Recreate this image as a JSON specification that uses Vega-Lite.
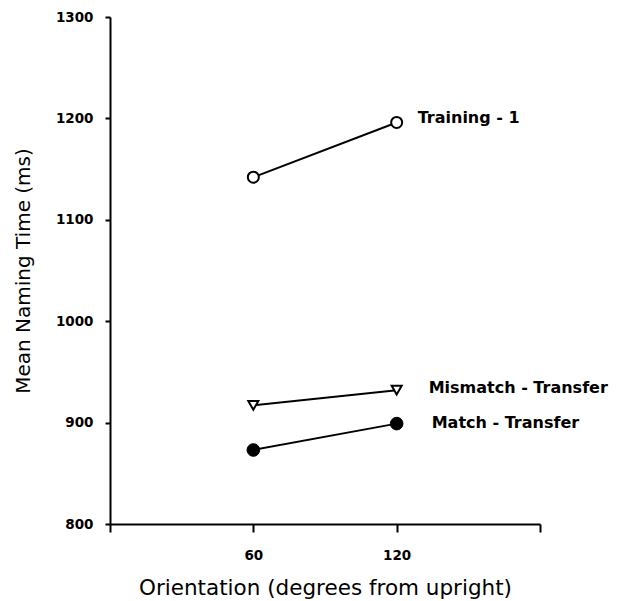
{
  "$schema": "https://vega.github.io/schema/vega-lite/v6.json",
  "autosize": "none",
  "width": 430,
  "height": 507,
  "padding": {"left": 110, "top": 17, "right": 79, "bottom": 77},
  "background": "white",
  "config": {
    "view": {"stroke": null},
    "axis": {
      "grid": false,
      "domainColor": "black",
      "domainWidth": 2,
      "tickColor": "black",
      "tickWidth": 2,
      "labelColor": "black",
      "titleColor": "black",
      "labelFont": "DejaVu Sans",
      "titleFont": "DejaVu Sans",
      "labelFontSize": 13.5,
      "labelFontWeight": "bold",
      "titleFontWeight": "normal"
    }
  },
  "data": {
    "values": [
      {"series": "Training - 1", "orientation": 60, "time": 1142},
      {"series": "Training - 1", "orientation": 120, "time": 1196},
      {"series": "Mismatch - Transfer", "orientation": 60, "time": 917},
      {"series": "Mismatch - Transfer", "orientation": 120, "time": 932},
      {"series": "Match - Transfer", "orientation": 60, "time": 873},
      {"series": "Match - Transfer", "orientation": 120, "time": 899}
    ]
  },
  "encoding": {
    "x": {
      "field": "orientation", "type": "quantitative",
      "scale": {"domain": [0, 180], "nice": false},
      "axis": {
        "values": [0, 60, 120, 180],
        "format": "d",
        "labelExpr": "datum.value == 60 || datum.value == 120 ? datum.label : ''",
        "tickSize": 8,
        "labelPadding": 16,
        "titlePadding": 16,
        "titleFontSize": 21.5,
        "title": "Orientation (degrees from upright)"
      }
    },
    "y": {
      "field": "time", "type": "quantitative",
      "scale": {"domain": [800, 1300], "nice": false},
      "axis": {
        "values": [800, 900, 1000, 1100, 1200, 1300],
        "format": "d",
        "tickSize": 5,
        "labelPadding": 12,
        "titlePadding": 22,
        "titleFontSize": 20,
        "title": "Mean Naming Time (ms)"
      }
    }
  },
  "layer": [
    {
      "mark": {"type": "line", "color": "black", "strokeWidth": 2},
      "encoding": {"detail": {"field": "series"}}
    },
    {
      "transform": [{"filter": "datum.series == 'Training - 1'"}],
      "mark": {"type": "point", "shape": "circle", "filled": true, "fill": "white", "stroke": "black", "strokeWidth": 2, "size": 121, "opacity": 1}
    },
    {
      "transform": [{"filter": "datum.series == 'Mismatch - Transfer'"}],
      "mark": {"type": "point", "shape": "triangle-down", "filled": true, "fill": "white", "stroke": "black", "strokeWidth": 2, "size": 100, "opacity": 1}
    },
    {
      "transform": [{"filter": "datum.series == 'Match - Transfer'"}],
      "mark": {"type": "point", "shape": "circle", "filled": true, "fill": "black", "stroke": "black", "strokeWidth": 1, "size": 160, "opacity": 1}
    },
    {
      "transform": [{"filter": "datum.series == 'Training - 1' && datum.orientation == 120"}],
      "mark": {"type": "text", "align": "left", "dx": 21, "dy": -4, "font": "DejaVu Sans", "fontSize": 16, "fontWeight": "bold", "color": "black"},
      "encoding": {"text": {"field": "series"}}
    },
    {
      "transform": [{"filter": "datum.series == 'Mismatch - Transfer' && datum.orientation == 120"}],
      "mark": {"type": "text", "align": "left", "dx": 32, "dy": -2, "font": "DejaVu Sans", "fontSize": 16, "fontWeight": "bold", "color": "black"},
      "encoding": {"text": {"field": "series"}}
    },
    {
      "transform": [{"filter": "datum.series == 'Match - Transfer' && datum.orientation == 120"}],
      "mark": {"type": "text", "align": "left", "dx": 35, "dy": -1, "font": "DejaVu Sans", "fontSize": 16, "fontWeight": "bold", "color": "black"},
      "encoding": {"text": {"field": "series"}}
    }
  ]
}
